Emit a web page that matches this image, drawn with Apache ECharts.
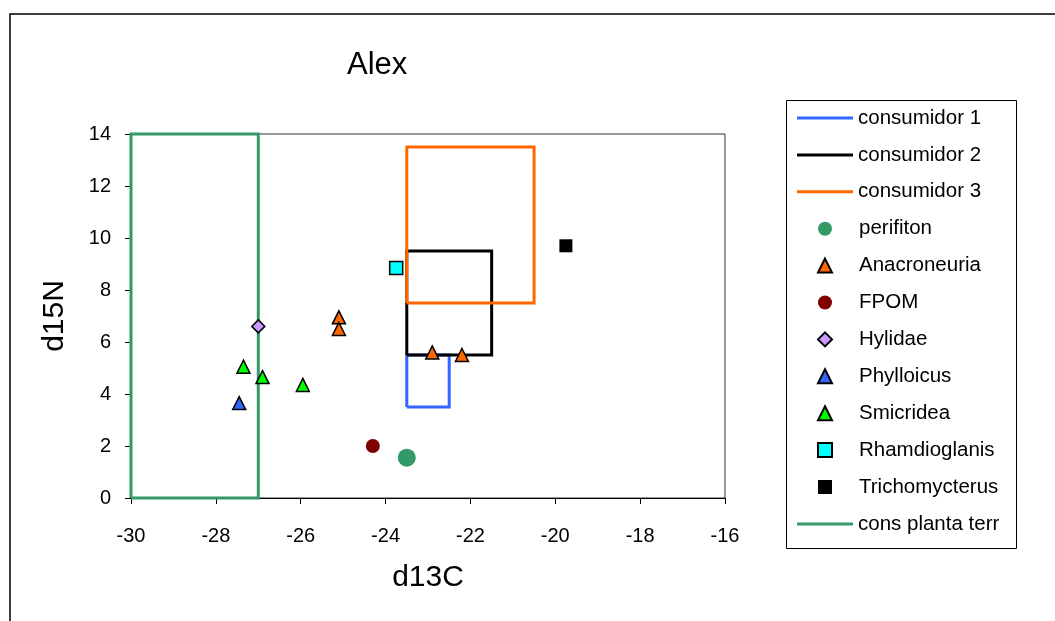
<!DOCTYPE html>
<html>
<head>
<meta charset="utf-8">
<script src="https://cdn.jsdelivr.net/npm/echarts@6/dist/echarts.min.js"></script>
<style>
  html, body { margin: 0; padding: 0; background: #fff; }
  #chart { width: 1055px; height: 621px; }
</style>
</head>
<body>
<div id="chart"></div>
<script>
// Axis ranges and ticks (d13C on x, d15N on y)
const xTicks = [-30, -28, -26, -24, -22, -20, -18, -16];
const yTicks = [0, 2, 4, 6, 8, 10, 12, 14];

// Consumer boxes: [xMin, xMax, yMin, yMax]
const consumidor1 = [-23.5, -22.5, 3.5, 5.5];
const consumidor2 = [-23.5, -21.5, 5.5, 9.5];
const consumidor3 = [-23.5, -20.5, 7.5, 13.5];
const consPlantaTerr = [-30, -27, 0, 14];

// Sampled taxa: [d13C, d15N]
const perifiton = [[-23.5, 1.55]];
const anacroneuria = [[-25.1, 6.95], [-25.1, 6.5], [-22.9, 5.6], [-22.2, 5.5]];
const fpom = [[-24.3, 2.0]];
const hylidae = [[-27.0, 6.6]];
const phylloicus = [[-27.45, 3.65]];
const smicridea = [[-27.35, 5.05], [-26.9, 4.65], [-25.95, 4.35]];
const rhamdioglanis = [[-23.75, 8.85]];
const trichomycterus = [[-19.75, 9.7]];

const FONT = '"Liberation Sans", Arial, sans-serif';
const ROW = 36.9;        // legend row pitch
const ROW_H = 22;        // height of one legend row
const LEGEND_TOP = 107;  // top of first legend row

// Closed outline of a box through its four corners
function boxPath(b) {
  return [[b[0], b[2]], [b[1], b[2]], [b[1], b[3]], [b[0], b[3]], [b[0], b[2]]];
}

function boxSeries(name, box, color) {
  return {
    name: name,
    type: 'line',
    data: boxPath(box),
    symbol: 'none',
    showSymbol: false,
    clip: false,
    z: 2,
    lineStyle: { color: color, width: 3, join: 'miter' },
    itemStyle: { color: color },
    animation: false
  };
}

function pointSeries(name, data, symbol, size, color, border) {
  return {
    name: name,
    type: 'scatter',
    data: data,
    symbol: symbol,
    symbolSize: size,
    z: 5,
    itemStyle: {
      color: color,
      borderColor: border ? '#000' : color,
      borderWidth: border ? 1.5 : 0,
      opacity: 1
    },
    animation: false
  };
}

const lineSeries = [
  boxSeries('consumidor 1', consumidor1, '#3366FF'),
  boxSeries('consumidor 2', consumidor2, '#000000'),
  boxSeries('consumidor 3', consumidor3, '#FF6600')
];
const markerSeries = [
  pointSeries('perifiton', perifiton, 'circle', 18, '#339966', false),
  pointSeries('Anacroneuria', anacroneuria, 'triangle', 13, '#FF6600', true),
  pointSeries('FPOM', fpom, 'circle', 14, '#800000', false),
  pointSeries('Hylidae', hylidae, 'diamond', 13, '#CC99FF', true),
  pointSeries('Phylloicus', phylloicus, 'triangle', 13, '#3366FF', true),
  pointSeries('Smicridea', smicridea, 'triangle', 13, '#00FF00', true),
  pointSeries('Rhamdioglanis', rhamdioglanis, 'rect', 13, '#00FFFF', true),
  pointSeries('Trichomycterus', trichomycterus, 'rect', 13, '#000000', false)
];
const plantSeries = [boxSeries('cons planta terr', consPlantaTerr, '#339966')];

const legendText = { fontFamily: FONT, fontSize: 20.5, color: '#000', lineHeight: ROW_H };

function lineLegend(items, top) {
  return {
    orient: 'vertical',
    left: 797,
    top: top,
    padding: 0,
    itemWidth: 56,
    itemHeight: 3,
    itemGap: ROW - ROW_H,
    icon: 'rect',
    textStyle: Object.assign({}, legendText, { padding: [0, 0, 0, 0] }),
    data: items.map(s => s.name)
  };
}

const chart = echarts.init(document.getElementById('chart'), null, { renderer: 'canvas' });

chart.setOption({
  backgroundColor: '#ffffff',
  animation: false,
  textStyle: { fontFamily: FONT },
  title: {
    text: 'Alex',
    left: 347,
    top: 50,
    padding: 0,
    textStyle: { fontFamily: FONT, fontSize: 31, fontWeight: 'normal', color: '#000' }
  },
  graphic: [
    {
      type: 'rect',
      shape: { x: 10, y: 14, width: 1200, height: 800 },
      style: { fill: 'none', stroke: '#000', lineWidth: 1.5 },
      z: -10, silent: true
    },
    {
      type: 'rect',
      shape: { x: 786.5, y: 100.5, width: 230, height: 448 },
      style: { fill: '#fff', stroke: '#000', lineWidth: 1 },
      z: -5, silent: true
    }
  ],
  legend: [
    lineLegend(lineSeries, LEGEND_TOP),
    {
      orient: 'vertical',
      left: 817,
      top: LEGEND_TOP + 3 * ROW,
      padding: 0,
      itemWidth: 14,
      itemHeight: 14,
      itemGap: ROW - ROW_H,
      textStyle: Object.assign({}, legendText, { padding: [0, 0, 0, 22] }),
      data: markerSeries.map(s => s.name)
    },
    lineLegend(plantSeries, LEGEND_TOP + 11 * ROW)
  ],
  grid: {
    left: 131,
    right: 330,
    top: 134,
    bottom: 123,
    show: true,
    borderColor: '#333',
    borderWidth: 1,
    backgroundColor: 'transparent'
  },
  xAxis: {
    type: 'value',
    min: xTicks[0],
    max: xTicks[xTicks.length - 1],
    interval: 2,
    name: 'd13C',
    nameLocation: 'middle',
    nameGap: 65,
    nameTextStyle: { fontFamily: FONT, fontSize: 30, color: '#000' },
    axisLine: { show: true, onZero: false, lineStyle: { color: '#000', width: 1 } },
    axisTick: { show: true, length: 6, inside: false, lineStyle: { color: '#000' } },
    axisLabel: { margin: 28, fontFamily: FONT, fontSize: 20, color: '#000' },
    splitLine: { show: false }
  },
  yAxis: {
    type: 'value',
    min: yTicks[0],
    max: yTicks[yTicks.length - 1],
    interval: 2,
    name: 'd15N',
    nameLocation: 'middle',
    nameGap: 61,
    nameTextStyle: { fontFamily: FONT, fontSize: 30, color: '#000' },
    axisLine: { show: true, onZero: false, lineStyle: { color: '#000', width: 1 } },
    axisTick: { show: true, length: 6, inside: false, lineStyle: { color: '#000' } },
    axisLabel: { margin: 20, fontFamily: FONT, fontSize: 20, color: '#000' },
    splitLine: { show: false }
  },
  series: lineSeries.concat(markerSeries, plantSeries)
});
</script>
</body>
</html>
